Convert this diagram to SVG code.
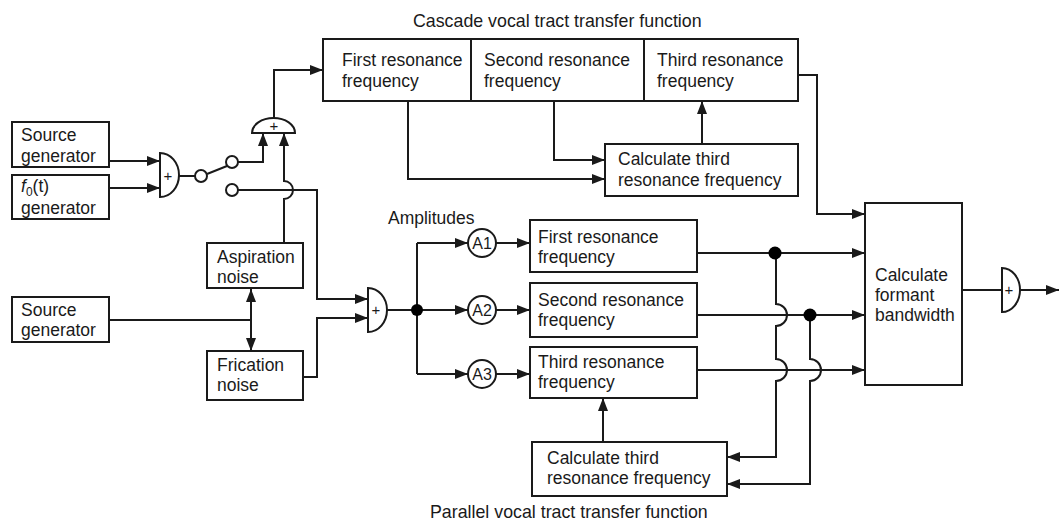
<svg xmlns="http://www.w3.org/2000/svg" width="1059" height="521" viewBox="0 0 1059 521">
<defs>
<marker id="ah" markerWidth="13" markerHeight="10" refX="13" refY="5" orient="auto-start-reverse" markerUnits="userSpaceOnUse"><path d="M0,0 L13,5 L0,10 z" fill="#1a1a1a"/></marker>
<style>
text{font-family:"Liberation Sans",Arial,Helvetica,sans-serif;font-size:17.5px;fill:#1a1a1a}
.box{fill:#fff;stroke:#1a1a1a;stroke-width:2}
.ln{fill:none;stroke:#1a1a1a;stroke-width:2}
.ar{fill:none;stroke:#1a1a1a;stroke-width:2;marker-end:url(#ah)}
.plus{font-size:15px;text-anchor:middle}
.amp{font-size:16px;text-anchor:middle}
.dot{fill:#000}
</style>
</defs>
<rect width="1059" height="521" fill="#fff"/>

<text x="413" y="27" style="font-size:17.8px">Cascade vocal tract transfer function</text>
<text x="430" y="518" style="font-size:17.8px">Parallel vocal tract transfer function</text>
<text x="388" y="224">Amplitudes</text>

<g id="connectors">
<path class="ar" d="M109,161 H160"/>
<path class="ar" d="M109,188 H160"/>
<path class="ln" d="M179,176 H195"/>
<path class="ln" d="M207,174 L227,166"/>
<path class="ar" d="M238,162 H263 V133"/>
<path class="ar" d="M274,118 V70 H323"/>
<path class="ar" d="M284,243 V199 A9,9 0 0 0 284,181 V133"/>
<path class="ar" d="M238,190 H317 V299 H368"/>
<path class="ar" d="M303,377 H317 V318 H368"/>
<path class="ln" d="M109,320 H251"/>
<path class="ln" d="M251,289 V351" style="marker-start:url(#ah);marker-end:url(#ah)"/>
<path class="ln" d="M387,310 H417"/>
<path class="ln" d="M417,243 V374"/>
<path class="ar" d="M417,243 H468"/>
<path class="ar" d="M417,310 H468"/>
<path class="ar" d="M417,374 H468"/>
<path class="ar" d="M496,243 H530"/>
<path class="ar" d="M496,310 H530"/>
<path class="ar" d="M496,374 H530"/>
<path class="ar" d="M697,253 H865"/>
<path class="ar" d="M697,315 H865"/>
<path class="ar" d="M697,370 H865"/>
<path class="ar" d="M776,253 V304 A11,11 0 0 1 776,326 V359 A11,11 0 0 1 776,381 V457 H727"/>
<path class="ar" d="M810,315 V359 A11,11 0 0 1 810,381 V484 H727"/>
<path class="ar" d="M603,442 V398"/>
<path class="ar" d="M798,75 H817 V214 H865"/>
<path class="ar" d="M408,101 V179 H605"/>
<path class="ar" d="M554,101 V160 H605"/>
<path class="ar" d="M702,144 V101"/>
<path class="ln" d="M962,290 H1002"/>
<path class="ar" d="M1019,290 H1059"/>
<circle class="dot" cx="417" cy="310" r="6"/>
<circle class="dot" cx="775" cy="253" r="6.5"/>
<circle class="dot" cx="810" cy="315" r="6.5"/>
</g>

<g id="source1">
<rect class="box" x="12" y="122" width="97" height="45"/>
<text x="21" y="141">Source</text>
<text x="21" y="162">generator</text>
</g>
<g id="f0gen">
<rect class="box" x="12" y="175" width="97" height="44"/>
<text x="21" y="192"><tspan font-style="italic">f</tspan><tspan font-size="12" dy="4">0</tspan><tspan dy="-4">(t)</tspan></text>
<text x="21" y="214">generator</text>
</g>
<g id="adder1">
<path class="box" d="M160,153 A19,22 0 0 1 160,197 Z"/>
<text class="plus" x="168" y="181">+</text>
</g>
<g id="switch">
<circle class="box" cx="201" cy="176" r="6"/>
<circle class="box" cx="232" cy="162" r="6"/>
<circle class="box" cx="232" cy="190" r="6"/>
</g>
<g id="adderTop">
<path class="box" d="M252,133 A21.5,15 0 0 1 295,133 Z"/>
<text class="plus" x="274" y="131">+</text>
</g>
<g id="aspiration">
<rect class="box" x="207" y="243" width="96" height="45"/>
<text x="217" y="263">Aspiration</text>
<text x="217" y="283">noise</text>
</g>
<g id="source2">
<rect class="box" x="12" y="297" width="97" height="45"/>
<text x="21" y="316">Source</text>
<text x="21" y="336">generator</text>
</g>
<g id="frication">
<rect class="box" x="207" y="351" width="96" height="49"/>
<text x="217" y="371">Frication</text>
<text x="217" y="391">noise</text>
</g>
<g id="adder2">
<path class="box" d="M368,288 A19,22 0 0 1 368,332 Z"/>
<text class="plus" x="376" y="315">+</text>
</g>
<g id="cascade">
<rect class="box" x="323" y="39" width="475" height="62"/>
<line class="ln" x1="471" y1="39" x2="471" y2="101"/>
<line class="ln" x1="644" y1="39" x2="644" y2="101"/>
<text x="342" y="66">First resonance</text>
<text x="342" y="87">frequency</text>
<text x="484" y="66">Second resonance</text>
<text x="484" y="87">frequency</text>
<text x="657" y="66">Third resonance</text>
<text x="657" y="87">frequency</text>
</g>
<g id="calcTop">
<rect class="box" x="605" y="144" width="193" height="52"/>
<text x="618" y="165">Calculate third</text>
<text x="618" y="186">resonance frequency</text>
</g>
<g id="A1"><circle class="box" cx="482" cy="243" r="14"/><text class="amp" x="482" y="249">A1</text></g>
<g id="A2"><circle class="box" cx="482" cy="310" r="14"/><text class="amp" x="482" y="316">A2</text></g>
<g id="A3"><circle class="box" cx="482" cy="374" r="14"/><text class="amp" x="482" y="380">A3</text></g>
<g id="par1">
<rect class="box" x="530" y="220" width="167" height="52"/>
<text x="538" y="243">First resonance</text>
<text x="538" y="263">frequency</text>
</g>
<g id="par2">
<rect class="box" x="530" y="283" width="167" height="54"/>
<text x="538" y="306">Second resonance</text>
<text x="538" y="326">frequency</text>
</g>
<g id="par3">
<rect class="box" x="530" y="347" width="167" height="51"/>
<text x="538" y="368">Third resonance</text>
<text x="538" y="388">frequency</text>
</g>
<g id="calcBottom">
<rect class="box" x="532" y="442" width="195" height="54"/>
<text x="547" y="464">Calculate third</text>
<text x="547" y="484">resonance frequency</text>
</g>
<g id="formant">
<rect class="box" x="865" y="203" width="97" height="182"/>
<text x="875" y="281">Calculate</text>
<text x="875" y="301">formant</text>
<text x="875" y="321">bandwidth</text>
</g>
<g id="adder3">
<path class="box" d="M1002,268 A18,22 0 0 1 1002,312 Z"/>
<text class="plus" x="1009" y="295">+</text>
</g>
</svg>
